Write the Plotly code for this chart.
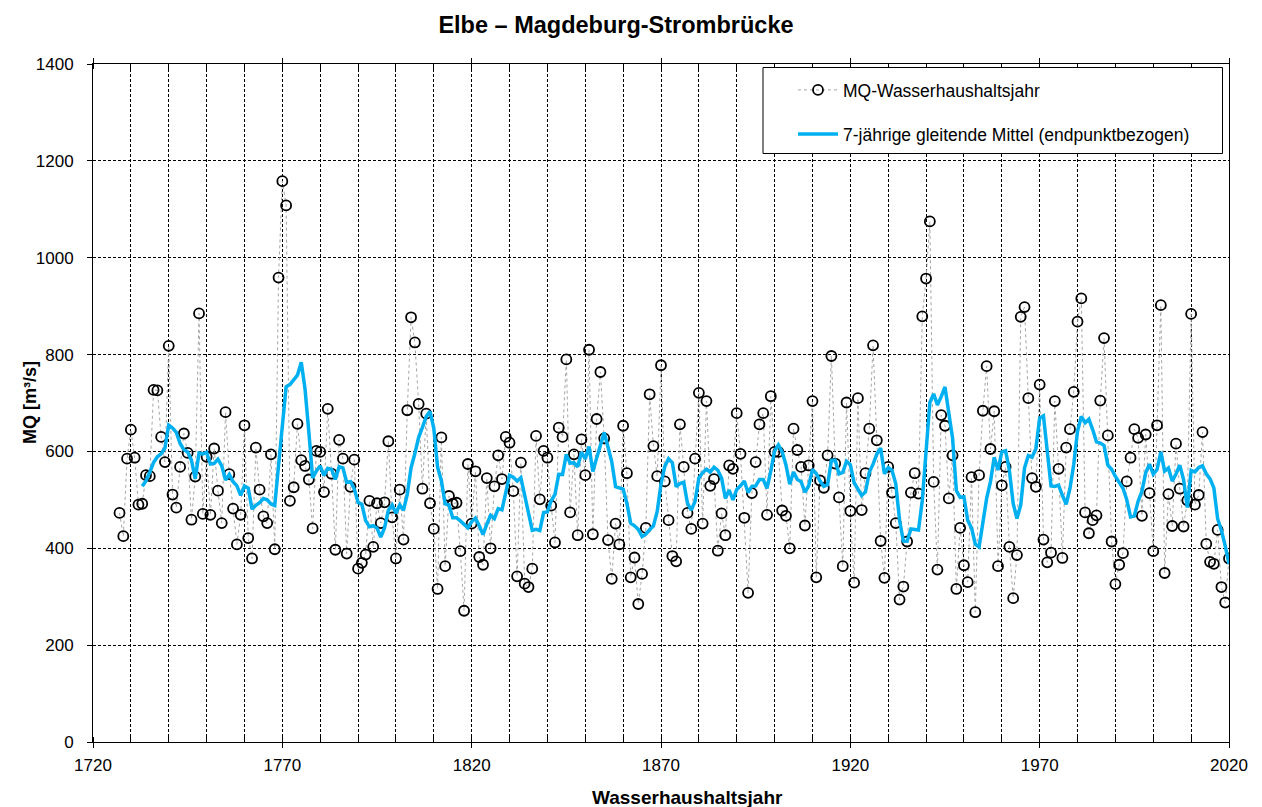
import plotly.graph_objects as go
import pandas as pd

# ---- data ----
years = list(range(1727, 2021))

mq = [
    # 1727-1729
    473, 425, 585,
    # 1730-1739
    645, 587, 490, 492, 551, 549, 727, 726, 630, 578,
    # 1740-1749
    818, 511, 484, 568, 637, 597, 459, 548, 885, 471,
    # 1750-1759
    589, 469, 606, 519, 452, 681, 553, 482, 408, 469,
    # 1760-1769
    654, 421, 379, 608, 521, 466, 452, 594, 398, 959,
    # 1770-1779
    1158, 1108, 498, 526, 657, 582, 570, 542, 441, 601,
    # 1780-1789
    599, 516, 688, 554, 397, 624, 585, 389, 527, 583,
    # 1790-1799
    358, 370, 387, 498, 403, 493, 452, 495, 621, 464,
    # 1800-1809
    379, 521, 418, 685, 877, 825, 698, 523, 678, 493,
    # 1810-1819
    440, 316, 629, 363, 508, 492, 494, 394, 271, 574,
    # 1820-1829
    451, 559, 382, 366, 545, 400, 528, 592, 543, 630,
    # 1830-1839
    618, 518, 342, 577, 327, 320, 358, 632, 501, 601,
    # 1840-1849
    587, 488, 412, 649, 630, 790, 474, 594, 427, 625,
    # 1850-1859
    551, 810, 429, 667, 764, 627, 417, 337, 451, 408,
    # 1860-1869
    653, 555, 340, 381, 285, 347, 442, 718, 611, 549,
    # 1870-1879
    778, 538, 458, 384, 373, 656, 568, 473, 440, 585,
    # 1880-1889
    721, 451, 704, 529, 543, 395, 472, 427, 571, 564,
    # 1890-1899
    679, 595, 463, 308, 514, 578, 656, 679, 469, 714,
    # 1900-1909
    599, 599, 478, 467, 400, 647, 603, 568, 447, 571,
    # 1910-1919
    704, 340, 540, 525, 592, 797, 575, 505, 363, 701,
    # 1920-1929
    477, 329, 710, 479, 555, 647, 819, 623, 415, 339,
    # 1930-1939
    568, 515, 452, 294, 321, 414, 515, 555, 513, 879,
    # 1940-1949
    957, 1075, 537, 356, 675, 653, 503, 592, 316, 442,
    # 1950-1959
    365, 330, 547, 268, 551, 684, 776, 605, 683, 363,
    # 1960-1969
    530, 568, 403, 297, 386, 878, 898, 710, 545, 527,
    # 1970-1979
    738, 418, 371, 391, 704, 564, 380, 608, 646, 723,
    # 1980-1989
    868, 916, 474, 431, 458, 468, 705, 834, 633, 414,
    # 1990-1999
    326, 366, 390, 538, 587, 646, 628, 467, 635, 514,
    # 2000-2009
    394, 654, 902, 349, 512, 446, 616, 523, 445, 499,
    # 2010-2020
    884, 490, 510, 640, 409, 372, 368, 438, 320, 288, 379,
]

x_ticks = [1720, 1770, 1820, 1870, 1920, 1970, 2020]
y_ticks = [0, 200, 400, 600, 800, 1000, 1200, 1400]

title_text = "Elbe – Magdeburg-Strombrücke"
name_mq = "MQ-Wasserhaushaltsjahr"
name_ma = "7-jährige gleitende Mittel (endpunktbezogen)"
x_title = "Wasserhaushaltsjahr"
y_title = "MQ [m³/s]"

# 7-year moving mean referenced to the end point (trailing window)
ma = pd.Series(mq, index=years).rolling(7).mean()

FONT = "Liberation Sans, Arial, sans-serif"

# page body has an 8px margin -> figure placed at (8, 8)
OFF = 8
W, H = 1262 - OFF, 807 - OFF
PL, PR, PT, PB = 93, 1229, 64, 742  # plot area in page pixels


def px_x(px):
    return (px - PL) / (PR - PL)


def px_y(py):
    return (PB - py) / (PB - PT)


fig = go.Figure()
fig.add_trace(go.Scatter(
    x=years, y=mq, mode="lines+markers", name=name_mq,
    line=dict(color="#a6a6a6", width=1, dash="dot"),
    marker=dict(symbol="circle-open", size=10, color="black",
                line=dict(color="black", width=1.8)),
    legend="legend",
))
fig.add_trace(go.Scatter(
    x=ma.index, y=ma.values, mode="lines", name=name_ma,
    line=dict(color="#00B0F0", width=3.5),
    legend="legend2",
))

grid = dict(gridcolor="#000000", gridwidth=1, griddash="3px,2px")
legend_common = dict(bgcolor="rgba(0,0,0,0)", borderwidth=0, itemwidth=40,
                     font=dict(family=FONT, size=17.5, color="black"))

fig.update_layout(
    width=W, height=H,
    margin=dict(l=PL - OFF, r=1262 - PR, t=PT - OFF, b=807 - PB),
    paper_bgcolor="white", plot_bgcolor="white",
    font=dict(family=FONT, size=17, color="black"),
    title=dict(text="<b>" + title_text + "</b>", x=(616 - OFF) / W, xref="container",
               xanchor="center", y=1 - (25 - OFF) / H, yanchor="middle",
               font=dict(family=FONT, size=23.5, color="black")),
    xaxis=dict(range=[1720, 2020], tickvals=x_ticks, ticks="outside", ticklen=5,
               tickcolor="black", showline=True, linecolor="black", linewidth=1,
               mirror="allticks", showgrid=True, zeroline=False,
               ticklabelstandoff=3,
               tickfont=dict(family=FONT, size=17),
               minor=dict(dtick=10, tick0=1720, showgrid=True, ticks="inside",
                          ticklen=5, tickcolor="black", **grid),
               **grid),
    yaxis=dict(range=[0, 1400], tickvals=y_ticks, ticks="outside", ticklen=5,
               tickcolor="black", showline=True, linecolor="black", linewidth=1,
               mirror=True, showgrid=True, zeroline=False,
               ticklabelstandoff=10,
               tickfont=dict(family=FONT, size=17), **grid),
    showlegend=True,
    legend=dict(x=px_x(793), xanchor="left", y=px_y(90), yanchor="middle", **legend_common),
    legend2=dict(x=px_x(793), xanchor="left", y=px_y(134), yanchor="middle", **legend_common),
)

fig.add_shape(type="rect", xref="paper", yref="paper",
              x0=px_x(763), x1=px_x(1222.5), y0=px_y(153.5), y1=px_y(67.5),
              fillcolor="white", line=dict(color="black", width=1), layer="above")

fig.add_annotation(text="<b>" + y_title + "</b>", xref="paper", yref="paper",
                   x=px_x(30), y=0.5, textangle=-90, showarrow=False,
                   xanchor="center", yanchor="middle",
                   font=dict(family=FONT, size=18, color="black"))
fig.add_annotation(text="<b>" + x_title + "</b>", xref="paper", yref="paper",
                   x=px_x(687), y=px_y(797), showarrow=False,
                   xanchor="center", yanchor="middle",
                   font=dict(family=FONT, size=19, color="black"))

fig.write_html("out.html")
